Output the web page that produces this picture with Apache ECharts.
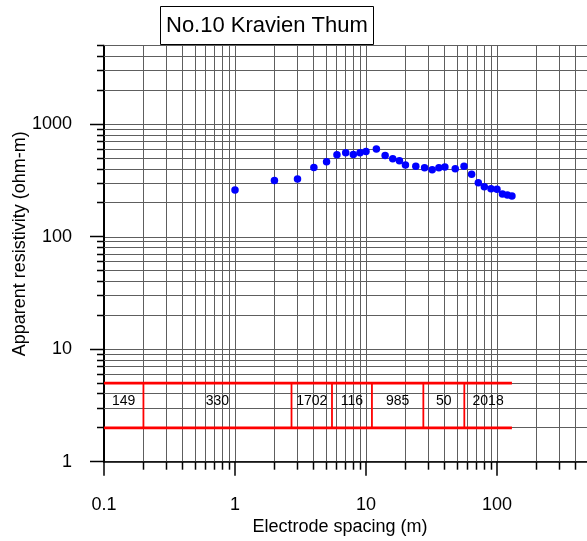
<!DOCTYPE html>
<html>
<head>
<meta charset="utf-8">
<script src="https://cdn.jsdelivr.net/npm/echarts@6/dist/echarts.min.js"></script>
<style>
  html, body { margin: 0; padding: 0; background: #fff; }
  #chart { width: 587px; height: 541px; }
</style>
</head>
<body>
<div id="chart"></div>
<script>
// Electrode spacing (m) of each sounding reading
const spacing = [1, 2, 3, 4, 5, 6, 7, 8, 9, 10, 12, 14, 16, 18, 20, 24, 28, 32, 36, 40,
                 48, 56, 64, 72, 80, 90, 100, 110, 120, 130];
// Apparent resistivity (ohm-m) measured at each spacing
const apparentRes = [260, 317, 326, 414, 464, 535, 558, 540, 558, 574, 602, 529, 494, 474, 434,
                     423, 410, 394, 411, 417, 402, 423, 359, 302, 278, 267, 264, 240, 235, 230];
// Interpreted layered model: interface depths (m) and layer resistivities (ohm-m)
const layerDepths = [0.2, 2.7, 5.5, 11.1, 27.4, 56.3];
const layerRes = [149, 330, 1702, 116, 985, 50, 2018];
// The model strip is drawn between these resistivity-axis values, from the first to the last spacing
const bandTop = 5, bandBottom = 2;
const modelStart = 0.1, modelEnd = 130;
// Axis ranges and labelled decades
const xRange = [0.1, 1000];
const yRange = [1, 5000];
const xTickLabels = ['0.1', '1', '10', '100', '1000'];
const yTickLabels = ['1', '10', '100', '1000'];

const FONT = '"Liberation Sans", Arial, Helvetica, sans-serif';
const GRID_COLOR = '#5e5e5e';

// 2..9 multiples of every decade inside the range (log-axis minor ticks)
function minorValues(lo, hi) {
  const out = [];
  for (let d = lo; d < hi; d = +(d * 10).toPrecision(6)) {
    for (let k = 2; k <= 9; k++) {
      const v = +(k * d).toPrecision(6);
      if (v <= hi) out.push(v);
    }
  }
  return out;
}
const xMinor = minorValues(xRange[0], xRange[1]);
const yMinor = minorValues(yRange[0], yRange[1]);
const yMajor = yTickLabels.map(Number);

// Model segments: two horizontal rails and one vertical bar per interface
const modelSegments = [
  [modelStart, bandTop, modelEnd, bandTop],
  [modelStart, bandBottom, modelEnd, bandBottom]
].concat(layerDepths.map(d => [d, bandBottom, d, bandTop]));

// Layer labels sit at the logarithmic middle of each layer
const layerBounds = [modelStart].concat(layerDepths, [modelEnd]);
const layerLabels = layerRes.map((r, i) => [
  Math.sqrt(layerBounds[i] * layerBounds[i + 1]),
  Math.sqrt(bandTop * bandBottom),
  String(r)
]);

function crisp(v) { return Math.round(v - 0.5) + 0.5; }

function pickLabel(list, v) {
  const hit = list.find(s => Math.abs(Number(s) - v) / Number(s) < 1e-6);
  return hit || '';
}

const chart = echarts.init(document.getElementById('chart'), null, { renderer: 'canvas' });

chart.setOption({
  animation: false,
  backgroundColor: '#fff',
  title: {
    text: 'No.10 Kravien Thum',
    left: 160,
    top: 6,
    padding: [9, 6, 8, 6],
    borderColor: '#000',
    borderWidth: 1,
    backgroundColor: '#fff',
    textStyle: { fontFamily: FONT, fontSize: 22, fontWeight: 'normal', color: '#000' }
  },
  grid: {
    left: 104, top: 45.7, width: 524, height: 416,
    containLabel: false,
    outerBoundsMode: 'none'
  },
  xAxis: {
    type: 'log',
    logBase: 10,
    min: xRange[0],
    max: xRange[1],
    name: 'Electrode spacing (m)',
    nameLocation: 'middle',
    nameGap: 56,
    nameMoveOverlap: false,
    nameTextStyle: { fontFamily: FONT, fontSize: 18, color: '#000', padding: [0, 52, 0, 0] },
    axisLine: { onZero: false, lineStyle: { color: '#000', width: 1.5 } },
    axisTick: { show: true, length: 14, lineStyle: { color: '#000', width: 1.5 } },
    axisLabel: {
      margin: 34,
      fontFamily: FONT, fontSize: 18, color: '#000',
      formatter: v => pickLabel(xTickLabels, v)
    },
    splitLine: { show: true, lineStyle: { color: GRID_COLOR, width: 1 } }
  },
  yAxis: {
    type: 'log',
    logBase: 10,
    min: yRange[0],
    max: yRange[1],
    name: 'Apparent resistivity (ohm-m)',
    nameLocation: 'middle',
    nameGap: 75,
    nameMoveOverlap: false,
    nameTextStyle: { fontFamily: FONT, fontSize: 18, color: '#000', padding: [0, 0, 0, 20] },
    axisLine: { onZero: false, lineStyle: { color: '#000', width: 2 } },
    axisTick: { show: false },
    axisLabel: {
      margin: 32,
      fontFamily: FONT, fontSize: 18, color: '#000',
      formatter: v => pickLabel(yTickLabels, v)
    },
    splitLine: { show: true, lineStyle: { color: GRID_COLOR, width: 1 } }
  },
  series: [
    {
      // minor vertical grid lines and the short ticks under the spacing axis
      type: 'custom',
      coordinateSystem: 'cartesian2d',
      silent: true,
      clip: false,
      z: 1,
      data: xMinor.map(v => [v, yRange[0]]),
      renderItem: (params, api) => {
        const v = api.value(0);
        const top = api.coord([v, yRange[1]]);
        const bot = api.coord([v, yRange[0]]);
        const x = crisp(top[0]);
        return {
          type: 'group',
          children: [
            { type: 'line', shape: { x1: x, y1: top[1], x2: x, y2: bot[1] },
              style: { stroke: GRID_COLOR, lineWidth: 1 } },
            { type: 'line', shape: { x1: x, y1: bot[1], x2: x, y2: bot[1] + 8 },
              style: { stroke: '#000', lineWidth: 1.5 } }
          ]
        };
      }
    },
    {
      // minor horizontal grid lines and ticks left of the resistivity axis
      type: 'custom',
      coordinateSystem: 'cartesian2d',
      silent: true,
      clip: false,
      z: 1,
      data: yMinor.map(v => [xRange[0], v]),
      renderItem: (params, api) => {
        const v = api.value(1);
        const left = api.coord([xRange[0], v]);
        const right = api.coord([xRange[1], v]);
        const y = crisp(left[1]);
        return {
          type: 'group',
          children: [
            { type: 'line', shape: { x1: left[0], y1: y, x2: right[0], y2: y },
              style: { stroke: GRID_COLOR, lineWidth: 1 } },
            { type: 'line', shape: { x1: left[0] - 7, y1: y, x2: left[0], y2: y },
              style: { stroke: '#000', lineWidth: 1.5 } }
          ]
        };
      }
    },
    {
      // major ticks on the resistivity axis (decades only)
      type: 'custom',
      coordinateSystem: 'cartesian2d',
      silent: true,
      clip: false,
      z: 3,
      data: yMajor.map(v => [xRange[0], v]),
      renderItem: (params, api) => {
        const p = api.coord([xRange[0], api.value(1)]);
        const y = crisp(p[1]);
        return { type: 'line', shape: { x1: p[0] - 14, y1: y, x2: p[0], y2: y },
                 style: { stroke: '#000', lineWidth: 1.5 } };
      }
    },
    {
      // layered model strip
      type: 'custom',
      coordinateSystem: 'cartesian2d',
      silent: true,
      clip: false,
      z: 4,
      data: modelSegments,
      renderItem: (params, api) => {
        const a = api.coord([api.value(0), api.value(1)]);
        const b = api.coord([api.value(2), api.value(3)]);
        const horizontal = api.value(1) === api.value(3);
        return { type: 'line', shape: { x1: a[0], y1: a[1], x2: b[0], y2: b[1] },
                 style: { stroke: '#ff0000', lineWidth: horizontal ? 2.6 : 1.8 } };
      }
    },
    {
      // layer resistivity labels
      type: 'custom',
      coordinateSystem: 'cartesian2d',
      silent: true,
      clip: false,
      z: 5,
      data: layerLabels,
      renderItem: (params, api) => {
        const p = api.coord([api.value(0), api.value(1)]);
        return {
          type: 'text',
          x: p[0], y: p[1] - 4,
          style: {
            text: layerLabels[params.dataIndex][2],
            fill: '#000',
            font: '14px ' + FONT,
            align: 'center',
            verticalAlign: 'middle'
          }
        };
      }
    },
    {
      name: 'Apparent resistivity',
      type: 'scatter',
      symbol: 'circle',
      symbolSize: 7.5,
      z: 6,
      itemStyle: { color: '#0000ff', opacity: 1 },
      data: spacing.map((s, i) => [s, apparentRes[i]])
    }
  ]
});
</script>
</body>
</html>
